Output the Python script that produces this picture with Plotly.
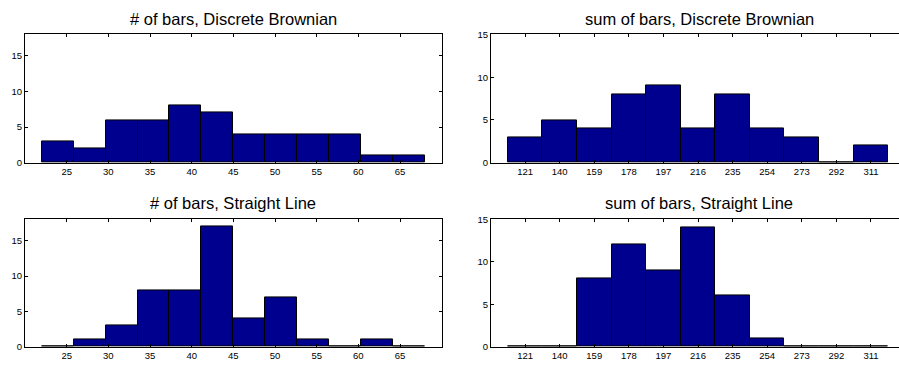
import plotly.graph_objects as go

# ---- data ----
nbars_centers = [23.917, 27.75, 31.583, 35.417, 39.25, 43.083, 46.917, 50.75, 54.583, 58.417, 62.25, 66.083]
nbars_width = 3.833
nbars_brownian = [3, 2, 6, 6, 8, 7, 4, 4, 4, 4, 1, 1]
nbars_line = [0, 1, 3, 8, 8, 17, 4, 7, 1, 0, 1, 0]

sum_centers = [121, 140, 159, 178, 197, 216, 235, 254, 273, 292, 311]
sum_width = 19
sum_brownian = [3, 5, 4, 8, 9, 4, 8, 4, 3, 0, 2]
sum_line = [0, 0, 8, 12, 9, 14, 6, 1, 0, 0, 0]

nbars_ticks = [25, 30, 35, 40, 45, 50, 55, 60, 65]
y_ticks = [0, 5, 10, 15]

titles = ["# of bars, Discrete Brownian", "sum of bars, Discrete Brownian",
          "# of bars, Straight Line", "sum of bars, Straight Line"]

W, H = 899, 368
BAR = "rgb(0,0,143)"
FONT = "Liberation Sans, Arial, Helvetica, sans-serif"

fig = go.Figure()

panels = [
    (nbars_centers, nbars_brownian, nbars_width, "x", "y"),
    (sum_centers, sum_brownian, sum_width, "x2", "y2"),
    (nbars_centers, nbars_line, nbars_width, "x3", "y3"),
    (sum_centers, sum_line, sum_width, "x4", "y4"),
]
for cx, cy, w, xa, ya in panels:
    fig.add_trace(go.Bar(x=cx, y=cy, width=[w] * len(cx), xaxis=xa, yaxis=ya,
                         marker=dict(color=BAR, line=dict(color="black", width=1)),
                         showlegend=False))

def px_x(p):
    return p / W

def px_y(p):
    return 1 - p / H

left_dom = [px_x(25), px_x(441.7)]
right_dom = [px_x(491), 1.0]
top_dom = [px_y(161.5), px_y(29.3)]
bot_dom = [px_y(351.3), px_y(220)]

common_ax = dict(showline=True, linecolor="black", linewidth=1, ticks="inside", ticklen=3,
                 tickcolor="black", showgrid=False, zeroline=False,
                 tickfont=dict(family=FONT, size=9.5, color="black"), fixedrange=True)

layout = dict(width=W, height=H, margin=dict(l=0, r=0, t=0, b=0),
              paper_bgcolor="white", plot_bgcolor="white", bargap=0,
              font=dict(family=FONT, color="black"))

axes_spec = [
    ("xaxis", "yaxis", left_dom, top_dom, [20, 70], nbars_ticks, [0, 18], True, 13),
    ("xaxis2", "yaxis2", right_dom, top_dom, [102.3, 326.4], sum_centers, [0, 15], False, 13),
    ("xaxis3", "yaxis3", left_dom, bot_dom, [20, 70], nbars_ticks, [0, 18], True, 203.5),
    ("xaxis4", "yaxis4", right_dom, bot_dom, [102.3, 326.4], sum_centers, [0, 15], False, 203.5),
]
annotations = []
for i, (xk, yk, xd, yd, xr, xt, yr, ymir, ty) in enumerate(axes_spec):
    suffix = "" if i == 0 else str(i + 1)
    layout[xk] = dict(common_ax, domain=xd, range=xr, tickvals=xt, mirror="ticks",
                      anchor="y" + suffix)
    layout[yk] = dict(common_ax, domain=yd, range=yr, tickvals=y_ticks,
                      mirror="ticks" if ymir else False, anchor="x" + suffix)
    annotations.append(dict(text=titles[i], xref="paper", yref="paper",
                            x=(xd[0] + (xd[1] if ymir else px_x(907.7))) / 2,
                            y=px_y(ty), xanchor="center", yanchor="middle",
                            showarrow=False, font=dict(family=FONT, size=16.5, color="black")))
layout["annotations"] = annotations
fig.update_layout(**layout)
fig.write_html("out.html")
